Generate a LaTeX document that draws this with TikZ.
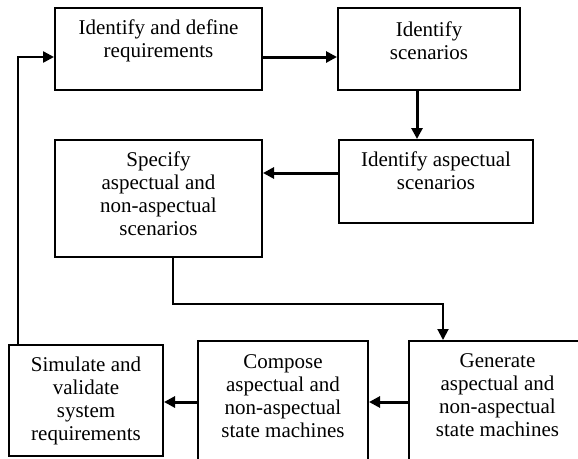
\documentclass[tikz,border=0pt]{standalone}
\usepackage{fontspec}
\setmainfont{Liberation Serif}
\usetikzlibrary{arrows.meta}
\begin{document}
\begin{tikzpicture}[x=1pt,y=-1pt,
  box/.style={draw,line width=2pt,rectangle,inner sep=0pt},
  txt/.style={anchor=north,inner sep=0pt,align=center,font=\fontsize{21}{23}\selectfont},
  arr/.style={line width=3pt,-{Triangle[length=11pt,width=11pt]}}]
\useasboundingbox (0,0) rectangle (578,458);
\clip (0,0) rectangle (578,458);
\fill[white] (0,0) rectangle (578,458);
% boxes
\node[box,minimum width=207pt,minimum height=82pt] (B1) at (158.5,49) {};
\node[box,minimum width=182pt,minimum height=82pt] (B2) at (429,49) {};
\node[box,minimum width=194pt,minimum height=83pt] (B3) at (436,181.5) {};
\node[box,minimum width=207pt,minimum height=117pt] (B4) at (158.5,198.5) {};
\node[box,minimum width=154pt,minimum height=111pt] (B5) at (86,400.5) {};
\node[box,minimum width=170pt,minimum height=129pt] (B6) at (283,405.5) {};
\node[box,minimum width=181pt,minimum height=129pt] (B7) at (499.5,405.5) {};
% texts
\node[txt] (T1) at ([yshift=-13pt]B1.north) {Identify and define\\requirements};
\node[txt] (T2) at ([yshift=-15pt]B2.north) {Identify\\scenarios};
\node[txt] (T3) at ([yshift=-13pt]B3.north) {Identify aspectual\\scenarios};
\node[txt] (T4) at ([yshift=-13pt]B4.north) {Specify\\aspectual and\\non-aspectual\\scenarios};
\node[txt] (T5) at ([yshift=-13pt]B5.north) {Simulate and\\validate\\system\\requirements};
\node[txt] (T6) at ([yshift=-14pt]B6.north) {Compose\\aspectual and\\non-aspectual\\state machines};
\node[txt,xshift=-2pt] (T7) at ([yshift=-13pt]B7.north) {Generate\\aspectual and\\non-aspectual\\state machines};
% connectors
\coordinate (bend) at (443,304);
\coordinate (ylow) at (0,402);
\draw[arr] ([yshift=-8pt]B1.east) -- ([yshift=-8pt]B2.west);
\draw[arr] ([xshift=-12pt]B2.south) -- ([xshift=-12pt]B2.south |- B3.north);
\draw[arr] ([yshift=8.5pt]B3.west) -- ([yshift=8.5pt]B3.west -| B4.east);
\draw[arr,line width=2pt] ([xshift=14.5pt]B4.south) |- (bend) -- (bend |- B7.north);
\draw[arr] (B7.west |- ylow) -- (B6.east |- ylow);
\draw[arr] (B6.west |- ylow) -- (B5.east |- ylow);
\draw[arr,line width=2.5pt] ([xshift=-68pt]B5.north) |- ([yshift=-8pt]B1.west);
\end{tikzpicture}
\end{document}
